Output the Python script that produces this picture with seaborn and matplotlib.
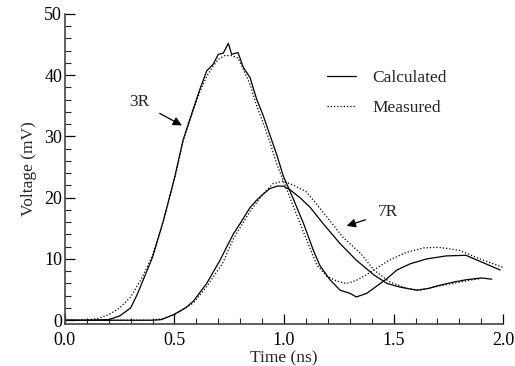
import matplotlib
matplotlib.use("Agg")
import matplotlib.pyplot as plt
import numpy as np
import pandas as pd
import seaborn as sns
from matplotlib.ticker import MultipleLocator

# --- data (time in ns, voltage in mV) ---
t_3r_calc = [0.0, 0.1, 0.2, 0.25, 0.30, 0.33, 0.36, 0.40, 0.45, 0.50, 0.54, 0.586, 0.616,
             0.647, 0.677, 0.70, 0.723, 0.746, 0.761, 0.79, 0.814, 0.845, 0.875, 0.905,
             0.936, 0.967, 0.997, 1.04, 1.09, 1.134, 1.164, 1.21, 1.256, 1.30, 1.33,
             1.378, 1.42, 1.47, 1.515, 1.575, 1.65, 1.74, 1.83, 1.895, 1.986]
v_3r_calc = [0.0, 0.0, 0.1, 0.7, 2.0, 4.2, 6.8, 10.3, 16.3, 23.2, 29.5, 34.5, 37.7,
             40.7, 41.8, 43.4, 43.6, 45.2, 43.4, 43.7, 41.3, 39.6, 36.1, 33.4,
             30.2, 27.0, 23.5, 20.0, 15.7, 11.4, 8.9, 6.6, 4.9, 4.4, 3.8,
             4.4, 5.5, 6.8, 8.2, 9.2, 10.0, 10.5, 10.6, 9.6, 8.2]

t_3r_meas = [0.0, 0.1, 0.15, 0.2, 0.25, 0.30, 0.35, 0.40, 0.45, 0.50, 0.54, 0.586, 0.616,
             0.647, 0.677, 0.70, 0.73, 0.76, 0.79, 0.814, 0.845, 0.875, 0.905, 0.936,
             0.967, 1.0, 1.04, 1.09, 1.12, 1.15, 1.195, 1.24, 1.286, 1.33, 1.37, 1.41,
             1.48, 1.56, 1.636, 1.70, 1.75, 1.80, 1.895, 2.0]
v_3r_meas = [0.0, 0.0, 0.3, 0.9, 2.0, 3.8, 6.8, 10.6, 16.3, 23.0, 29.3, 34.3, 37.3,
             39.8, 41.5, 42.6, 43.2, 43.2, 42.8, 41.0, 38.5, 35.0, 32.2, 29.0,
             25.5, 22.5, 18.8, 14.3, 11.6, 9.0, 7.2, 6.4, 6.0, 6.5, 7.3, 8.2,
             9.8, 11.1, 11.8, 11.9, 11.7, 11.4, 10.0, 8.6]

t_7r_calc = [0.0, 0.40, 0.44, 0.495, 0.55, 0.586, 0.647, 0.708, 0.769, 0.80, 0.845, 0.875,
             0.905, 0.936, 0.97, 0.997, 1.027, 1.073, 1.12, 1.18, 1.256, 1.33, 1.41,
             1.47, 1.53, 1.606, 1.66, 1.71, 1.77, 1.83, 1.90, 1.948]
v_7r_calc = [0.0, 0.0, 0.1, 0.9, 2.0, 3.1, 6.0, 9.8, 14.1, 15.8, 18.4, 19.6,
             20.6, 21.5, 21.9, 21.9, 21.3, 20.0, 18.4, 15.7, 12.5, 9.8, 7.4,
             6.0, 5.4, 4.9, 5.2, 5.7, 6.2, 6.6, 6.9, 6.7]

t_7r_meas = [0.0, 0.40, 0.45, 0.50, 0.586, 0.647, 0.72, 0.769, 0.845, 0.905, 0.95, 0.997,
             1.04, 1.10, 1.15, 1.21, 1.27, 1.35, 1.41, 1.48, 1.56, 1.62, 1.71, 1.80,
             1.86, 1.90]
v_7r_meas = [0.0, 0.0, 0.3, 0.9, 2.8, 5.5, 9.3, 13.3, 17.8, 20.6, 22.3, 22.7,
             22.1, 21.0, 18.9, 16.2, 13.5, 10.9, 8.2, 6.3, 5.2, 4.9, 5.6, 6.2,
             6.6, 6.8]

series = [
    ("3R", "Calculated", t_3r_calc, v_3r_calc),
    ("3R", "Measured", t_3r_meas, v_3r_meas),
    ("7R", "Calculated", t_7r_calc, v_7r_calc),
    ("7R", "Measured", t_7r_meas, v_7r_meas),
]
frames = []
for load, kind, t, v in series:
    frames.append(pd.DataFrame({"t": t, "v": v, "load": load, "kind": kind}))
df = pd.concat(frames, ignore_index=True)

sns.set_theme(style="ticks")
plt.rcParams["font.family"] = ["Liberation Serif", "DejaVu Serif"]

fig = plt.figure(figsize=(5.15, 3.66), dpi=100)
ax = fig.add_axes([0.126, 0.115, 0.851, 0.847])

styles = {"Calculated": "-", "Measured": (0, (1, 1.6))}
handles = {}
for (load, kind), grp in df.groupby(["load", "kind"], sort=False):
    sns.lineplot(data=grp, x="t", y="v", ax=ax, color="black", lw=0.9,
                 sort=False, estimator=None, legend=False)
    line = ax.lines[-1]
    line.set_linestyle(styles[kind])
    handles.setdefault(kind, line)

ax.set_xlim(0, 2.0)
ax.set_ylim(-0.6, 50)
ax.xaxis.set_major_locator(MultipleLocator(0.5))
ax.xaxis.set_minor_locator(MultipleLocator(0.1))
ax.yaxis.set_major_locator(MultipleLocator(10))
ax.yaxis.set_minor_locator(MultipleLocator(2))
ax.xaxis.set_major_formatter(matplotlib.ticker.FormatStrFormatter("%.1f"))
ax.tick_params(which="major", direction="in", length=7, width=0.9, labelsize=13,
               colors="black")
ax.tick_params(axis="y", which="major", pad=2)
ax.tick_params(axis="x", which="major", pad=6)
ax.tick_params(which="minor", direction="in", length=4, width=0.8)
for side in ["top", "right"]:
    ax.spines[side].set_visible(False)
for side in ["left", "bottom"]:
    ax.spines[side].set_color("#444444")
    ax.spines[side].set_linewidth(1.2)

ax.set_xlabel("Time (ns)", fontsize=12.5, labelpad=1)
ax.set_ylabel("Voltage (mV)", fontsize=12.5, labelpad=5)

ax.annotate("3R", xy=(0.534, 31.8), xytext=(0.338, 35.6), fontsize=12.5,
            ha="center", va="center",
            arrowprops=dict(arrowstyle="-|>", color="black", lw=0.9, shrinkA=6, shrinkB=0,
                            mutation_scale=13))
ax.annotate("7R", xy=(1.286, 15.4), xytext=(1.475, 17.6), fontsize=12.5,
            ha="center", va="center",
            arrowprops=dict(arrowstyle="-|>", color="black", lw=0.9, shrinkA=7, shrinkB=0,
                            mutation_scale=13))

ax.legend([handles["Calculated"], handles["Measured"]], ["Calculated", "Measured"],
          loc="upper left", bbox_to_anchor=(0.562, 0.87), frameon=False, fontsize=12.5,
          handlelength=1.7, handletextpad=0.9, labelspacing=0.8)

fig.savefig("out.png", dpi=100)
